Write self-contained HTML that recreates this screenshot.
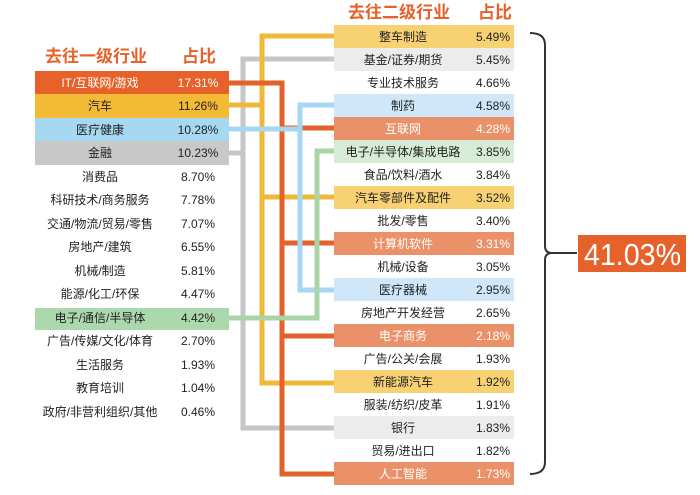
<!DOCTYPE html>
<html><head><meta charset="utf-8"><style>
html,body{margin:0;padding:0;background:#fff;}
svg{display:block;font-family:"Liberation Sans","Noto Sans CJK SC",sans-serif;}
</style></head><body>
<svg width="700" height="495" viewBox="0 0 700 495">
<rect x="35" y="71" width="194" height="23" fill="#e6622a"/>
<rect x="35" y="94" width="194" height="24" fill="#f2ba35"/>
<rect x="35" y="118" width="194" height="23" fill="#a6d8f2"/>
<rect x="35" y="141" width="194" height="24" fill="#c8c8c8"/>
<rect x="35" y="308" width="194" height="22" fill="#abd8ad"/>
<g>
<rect x="334" y="25" width="180" height="23" fill="#f8d172"/>
<rect x="334" y="48" width="180" height="23" fill="#ececec"/>
<rect x="334" y="94" width="180" height="23" fill="#cfe7f8"/>
<rect x="334" y="117" width="180" height="23" fill="#ea916a"/>
<rect x="334" y="140" width="180" height="23" fill="#d7ecd7"/>
<rect x="334" y="186" width="180" height="23" fill="#f8d172"/>
<rect x="334" y="232" width="180" height="23" fill="#ea916a"/>
<rect x="334" y="278" width="180" height="23" fill="#cfe7f8"/>
<rect x="334" y="324" width="180" height="23" fill="#ea916a"/>
<rect x="334" y="370" width="180" height="23" fill="#f8d172"/>
<rect x="334" y="416" width="180" height="23" fill="#ececec"/>
<rect x="334" y="462" width="180" height="23" fill="#ea916a"/>
</g>
<g fill="none" stroke-width="5" stroke-linejoin="miter">
<polyline stroke="#c6c6c6" points="229,153 243,153 243,428 334,428"/>
<polyline stroke="#c6c6c6" points="243,153 243,59 334,59"/>
<polyline stroke="#f0b83a" points="229,105 262,105"/>
<polyline stroke="#f0b83a" points="334,36 262,36 262,383 334,383"/>
<line stroke="#f0b83a" x1="262" y1="197" x2="334" y2="197"/>
<polyline stroke="#e2622a" points="229,83 282,83 282,474 334,474"/>
<line stroke="#e2622a" x1="282" y1="128" x2="334" y2="128"/>
<line stroke="#e2622a" x1="282" y1="243" x2="334" y2="243"/>
<line stroke="#e2622a" x1="282" y1="336" x2="334" y2="336"/>
<polyline stroke="#a6d6f2" points="229,129 300,129"/>
<polyline stroke="#a6d6f2" points="334,105 300,105 300,290 334,290"/>
<polyline stroke="#a8d4a8" points="229,318 317,318 317,151 334,151"/>
</g>
<g fill="#e6622a" font-weight="bold" font-size="17">
<text x="45" y="62">去往一级行业</text>
<text x="182" y="62">占比</text>
<text x="348" y="18">去往二级行业</text>
<text x="478" y="18">占比</text>
</g>
<g font-size="12" fill="#222" text-anchor="middle">
<text x="100" y="87" fill="#fff">IT/互联网/游戏</text><text x="198" y="87" fill="#fff" font-weight="500">17.31%</text>
<text x="100" y="110">汽车</text><text x="198" y="110">11.26%</text>
<text x="100" y="134">医疗健康</text><text x="198" y="134">10.28%</text>
<text x="100" y="157">金融</text><text x="198" y="157">10.23%</text>
<text x="100" y="181">消费品</text><text x="198" y="181">8.70%</text>
<text x="100" y="204">科研技术/商务服务</text><text x="198" y="204">7.78%</text>
<text x="100" y="228">交通/物流/贸易/零售</text><text x="198" y="228">7.07%</text>
<text x="100" y="251">房地产/建筑</text><text x="198" y="251">6.55%</text>
<text x="100" y="275">机械/制造</text><text x="198" y="275">5.81%</text>
<text x="100" y="298">能源/化工/环保</text><text x="198" y="298">4.47%</text>
<text x="100" y="322">电子/通信/半导体</text><text x="198" y="322">4.42%</text>
<text x="100" y="345">广告/传媒/文化/体育</text><text x="198" y="345">2.70%</text>
<text x="100" y="369">生活服务</text><text x="198" y="369">1.93%</text>
<text x="100" y="392">教育培训</text><text x="198" y="392">1.04%</text>
<text x="100" y="416">政府/非营利组织/其他</text><text x="198" y="416">0.46%</text>
</g>
<g font-size="12" fill="#222">
<g text-anchor="middle">
<text x="403" y="41">整车制造</text>
<text x="403" y="64">基金/证券/期货</text>
<text x="403" y="87">专业技术服务</text>
<text x="403" y="110">制药</text>
<text x="403" y="133" fill="#fff">互联网</text>
<text x="403" y="156">电子/半导体/集成电路</text>
<text x="403" y="179">食品/饮料/酒水</text>
<text x="403" y="202">汽车零部件及配件</text>
<text x="403" y="225">批发/零售</text>
<text x="403" y="248" fill="#fff">计算机软件</text>
<text x="403" y="271">机械/设备</text>
<text x="403" y="294">医疗器械</text>
<text x="403" y="317">房地产开发经营</text>
<text x="403" y="340" fill="#fff">电子商务</text>
<text x="403" y="363">广告/公关/会展</text>
<text x="403" y="386">新能源汽车</text>
<text x="403" y="409">服装/纺织/皮革</text>
<text x="403" y="432">银行</text>
<text x="403" y="455">贸易/进出口</text>
<text x="403" y="478" fill="#fff">人工智能</text>
</g>
<g text-anchor="end" font-weight="500">
<text x="510" y="41">5.49%</text>
<text x="510" y="64">5.45%</text>
<text x="510" y="87">4.66%</text>
<text x="510" y="110">4.58%</text>
<text x="510" y="133" fill="#fff">4.28%</text>
<text x="510" y="156">3.85%</text>
<text x="510" y="179">3.84%</text>
<text x="510" y="202">3.52%</text>
<text x="510" y="225">3.40%</text>
<text x="510" y="248" fill="#fff">3.31%</text>
<text x="510" y="271">3.05%</text>
<text x="510" y="294">2.95%</text>
<text x="510" y="317">2.65%</text>
<text x="510" y="340" fill="#fff">2.18%</text>
<text x="510" y="363">1.93%</text>
<text x="510" y="386">1.92%</text>
<text x="510" y="409">1.91%</text>
<text x="510" y="432">1.83%</text>
<text x="510" y="455">1.82%</text>
<text x="510" y="478" fill="#fff">1.73%</text>
</g>
</g>
<path d="M530,33 Q545,33 545,45 L545,246 Q545,253 552,253 L577,253 M552,253 Q545,253 545,260 L545,462 Q545,474 530,474" fill="none" stroke="#333" stroke-width="2"/>
<rect x="578" y="235" width="108" height="37" fill="#e6622a"/>
<text x="584" y="265" fill="#fff" font-size="31" textLength="97" lengthAdjust="spacingAndGlyphs">41.03%</text>
</svg>
</body></html>
